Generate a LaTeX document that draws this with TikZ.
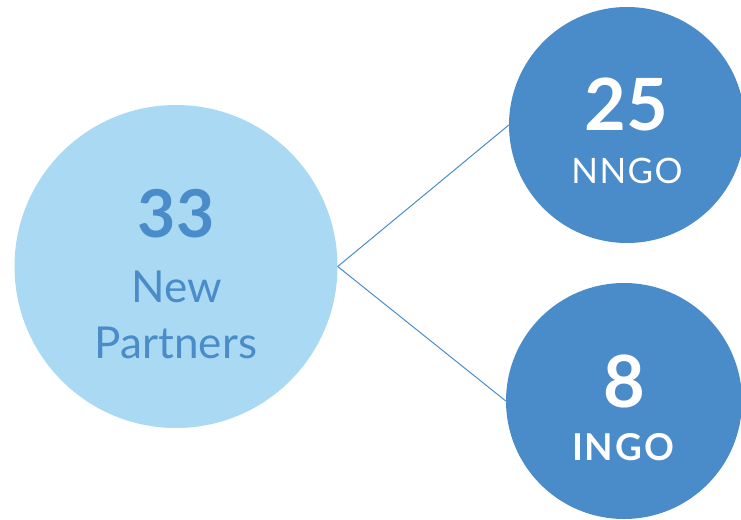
\documentclass[tikz,border=0pt]{standalone}
\usepackage{fontspec}
\setmainfont{Lato}
\newfontfamily\widelato[LetterSpace=4]{Lato}
\newfontfamily\widerlato[LetterSpace=5]{Lato}
\definecolor{lightblue}{HTML}{A9D9F3}
\definecolor{darkblue}{HTML}{4A8CC9}
\tikzset{
  bubble/.style={circle, inner sep=0pt, draw=none},
  bignum/.style={anchor=base, inner sep=0pt, font=\fontsize{66}{66}\selectfont\bfseries},
  biglabel/.style={anchor=base, inner sep=0pt, text=darkblue, font=\fontsize{44}{44}\selectfont},
  smalllabel/.style={anchor=base, inner sep=0pt, text=white, font=\widelato\fontsize{35}{35}\selectfont},
  link/.style={draw=darkblue, line width=1pt}
}
\begin{document}
\begin{tikzpicture}[x=1pt,y=-1pt]
\useasboundingbox (0,0) rectangle (741,519);
\clip (0,0) rectangle (741,519);
\node[bubble, fill=lightblue, minimum size=323pt] (big) at (176,266.5) {};
\node[bubble, fill=darkblue, minimum size=236pt] (nngo) at (627,125) {};
\node[bubble, fill=darkblue, minimum size=236pt] (ingo) at (624,401) {};
\draw[link] (big.east) -- (nngo.west);
\draw[link] (big.east) -- (ingo.west);
\node[bignum, text=darkblue] (n33) at (176,237) {33};
\node[biglabel] (new) at (177,302) {New};
\node[biglabel] (partners) at (176,358) {Partners};
\node[bignum, text=white, font=\fontsize{72}{72}\selectfont\bfseries] (n25) at (626,130) {25};
\node[smalllabel] (nngolabel) at (627,183) {NNGO};
\node[bignum, text=white, font=\fontsize{72}{72}\selectfont\bfseries] (n8) at (624,407) {8};
\node[smalllabel, font=\widerlato\fontsize{37}{37}\selectfont\bfseries] (ingolabel) at (623,460) {INGO};
\end{tikzpicture}
\end{document}
